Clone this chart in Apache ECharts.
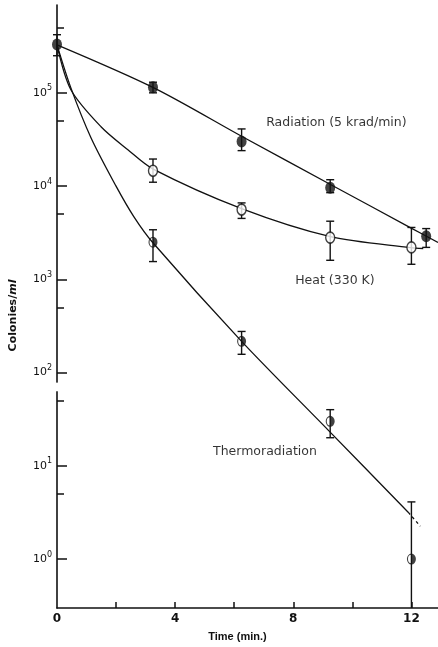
<!DOCTYPE html>
<html>
<head>
<meta charset="utf-8">
<script src="https://cdn.jsdelivr.net/npm/echarts@6/dist/echarts.min.js"></script>
<style>
html,body{margin:0;padding:0;background:#fff;}
#chart{width:438px;height:647px;}
</style>
</head>
<body>
<div id="chart"></div>
<script>
// ---- axis settings ----
const xMin = 0, xMax = 12.9;
const yMin = 0.2985, yMax = 8.75e5;
const xLabelValues = [0, 4, 8, 12];
const xTickValues = [2, 4, 6, 8, 10, 12];
const yLabelValues = [1, 10, 100, 1000, 10000, 100000];
const yMinorTickValues = [5, 50, 500, 5000, 50000, 500000];
const yBreak = [63, 78];

// ---- measured points (time in min, colonies/ml) ----
const radiationT = [0, 3.25, 6.25, 9.25, 12.5];
const radiationY = [3.3e5, 1.15e5, 3.0e4, 9.6e3, 2.9e3];
const radiationLow = [2.5e5, 1.0e5, 2.4e4, 8.5e3, 2.2e3];
const radiationHigh = [4.2e5, 1.3e5, 4.1e4, 1.17e4, 3.5e3];

const heatT = [3.25, 6.25, 9.25, 12];
const heatY = [1.46e4, 5.6e3, 2.8e3, 2.2e3];
const heatLow = [1.1e4, 4.5e3, 1.6e3, 1.45e3];
const heatHigh = [1.95e4, 6.6e3, 4.2e3, 3.6e3];

const thermoT = [3.25, 6.25, 9.25, 12];
const thermoY = [2.5e3, 216, 30, 1.0];
const thermoLow = [1.55e3, 157, 20, 0.2985];
const thermoHigh = [3.4e3, 276, 40, 4.1];

// ---- fitted curves ----
const radCurveT = [0, 3.28, 6.28, 9.26, 11.96, 12.9];
const radCurveY = [3.27e5, 1.13e5, 3.38e4, 1.04e4, 3.59e3, 2.48e3];

const heatCurveT = [0, 0.47, 1.49, 2.40, 3.24, 6.25, 9.26, 11.96, 12.4];
const heatCurveY = [3.27e5, 1.08e5, 4.33e4, 2.45e4, 1.53e4, 5.73e3, 2.87e3, 2.19e3, 2.14e3];

const thermoCurveT = [0, 0.47, 1.15, 1.99, 2.6, 3.24, 6.25, 9.19, 11.89];
const thermoCurveY = [3.27e5, 1.13e5, 3.3e4, 1.01e4, 4.7e3, 2.48e3, 216, 24.0, 3.18];

const thermoDashT = [11.89, 12.3];
const thermoDashY = [3.18, 2.25];

// ---- annotations ----
const annoText = ['Radiation (5 krad/min)', 'Heat (330 K)', 'Thermoradiation'];
const annoT = [9.46, 9.41, 7.04];
const annoY = [4.77e4, 971, 14.3];

const INK = '#111';
const zip = (a, b) => a.map((v, i) => [v, b[i]]);
const zip3 = (a, b, c) => a.map((v, i) => [v, b[i], c[i]]);

function errorBarSeries(name, t, low, high) {
  return {
    name: name, type: 'custom', z: 3,
    data: zip3(t, low, high),
    renderItem: function (params, api) {
      const x = api.value(0);
      const lo = api.coord([x, api.value(1)]);
      const hi = api.coord([x, api.value(2)]);
      const cw = 4;
      const st = { stroke: INK, lineWidth: 1.4 };
      const children = [
        { type: 'line', shape: { x1: lo[0], y1: lo[1], x2: hi[0], y2: hi[1] }, style: st },
        { type: 'line', shape: { x1: hi[0] - cw, y1: hi[1], x2: hi[0] + cw, y2: hi[1] }, style: st }
      ];
      if (api.value(1) > yMin * 1.01) {
        children.push({ type: 'line', shape: { x1: lo[0] - cw, y1: lo[1], x2: lo[0] + cw, y2: lo[1] }, style: st });
      }
      return { type: 'group', children: children };
    }
  };
}

function curve(t, y, dashed) {
  return {
    type: 'line', data: zip(t, y), smooth: 0.3, showSymbol: false, z: 2,
    lineStyle: { color: INK, width: 1.3, type: dashed ? [3, 3] : 'solid' },
    silent: true
  };
}

const halfFilled = 'path://M0,-10A10,10,0,1,1,0,10A10,10,0,1,1,0,-10ZM0,-7.6A7.6,7.6,0,0,0,0,7.6L0,-7.6Z';

const chart = echarts.init(document.getElementById('chart'), null, { renderer: 'canvas' });
const option = {
  backgroundColor: '#fff',
  animation: false,
  grid: { left: 56, right: 0, top: 5, bottom: 38, containLabel: false },
  xAxis: {
    type: 'value', min: xMin, max: xMax,
    name: 'Time (min.)', nameLocation: 'middle', nameGap: 23,
    nameTextStyle: { fontFamily: 'Liberation Sans', fontWeight: 'bold', fontSize: 11, color: INK, padding: [0, 20, 0, 0] },
    axisLine: { show: true, onZero: false, lineStyle: { color: INK, width: 1.6 } },
    axisTick: { show: true, inside: true, length: 6, customValues: xTickValues, lineStyle: { color: INK, width: 1.5 } },
    axisLabel: { customValues: xLabelValues, margin: 5, fontFamily: 'DejaVu Sans', fontWeight: 'bold', fontSize: 12, color: INK },
    splitLine: { show: false }
  },
  yAxis: [{
    type: 'log', logBase: 10, min: yMin, max: yMax,
    name: 'Colonies/{i|ml}', nameLocation: 'middle', nameGap: 38,
    nameTextStyle: { fontFamily: 'DejaVu Sans', fontWeight: 'bold', fontSize: 11, color: INK, padding: [0, 18, 0, 0],
      rich: { i: { fontFamily: 'DejaVu Sans', fontWeight: 'bold', fontStyle: 'italic', fontSize: 11, color: INK } } },
    axisLine: { show: true, onZero: false, lineStyle: { color: INK, width: 1.6 } },
    axisTick: { show: true, inside: true, length: 10, customValues: yLabelValues, lineStyle: { color: INK, width: 1.5 } },
    axisLabel: {
      customValues: yLabelValues, margin: 5,
      formatter: function (v) { return '{b|10}{s|' + Math.round(Math.log10(v)) + '}'; },
      rich: {
        b: { fontFamily: 'DejaVu Sans', fontSize: 11, color: INK, lineHeight: 17 },
        s: { fontFamily: 'DejaVu Sans', fontSize: 8, color: INK, verticalAlign: 'top', lineHeight: 10 }
      }
    },
    splitLine: { show: false }
  }, {
    type: 'log', logBase: 10, min: yMin, max: yMax, position: 'left', offset: 0,
    axisLine: { show: false },
    axisTick: { show: true, inside: true, length: 7, customValues: yMinorTickValues, lineStyle: { color: INK, width: 1.5 } },
    axisLabel: { show: false },
    splitLine: { show: false }
  }],
  series: [
    curve(radCurveT, radCurveY),
    curve(heatCurveT, heatCurveY),
    curve(thermoCurveT, thermoCurveY),
    curve(thermoDashT, thermoDashY, true),
    errorBarSeries('radErr', radiationT, radiationLow, radiationHigh),
    errorBarSeries('heatErr', heatT, heatLow, heatHigh),
    errorBarSeries('thermoErr', thermoT, thermoLow, thermoHigh),
    {
      name: 'Radiation', type: 'scatter', z: 5, data: zip(radiationT, radiationY),
      symbol: 'circle', symbolSize: [10, 12], itemStyle: { color: INK }
    },
    {
      name: 'Heat', type: 'scatter', z: 5, data: zip(heatT, heatY),
      symbol: 'circle', symbolSize: [9, 11], itemStyle: { color: '#fff', borderColor: INK, borderWidth: 1.5 }
    },
    {
      name: 'Thermoradiation', type: 'scatter', z: 5, data: zip(thermoT, thermoY),
      symbol: halfFilled, symbolSize: [9, 11], symbolKeepAspect: false, itemStyle: { color: INK }
    },
    {
      name: 'labels', type: 'scatter', z: 6, silent: true, symbolSize: 0,
      data: annoText.map((s, i) => ({ value: [annoT[i], annoY[i]], name: s })),
      label: {
        show: true, position: 'inside', formatter: '{b}',
        fontFamily: 'DejaVu Sans', fontSize: 12.5, color: '#000'
      }
    }
  ]
};
chart.setOption(option);

// axis break on the y axis line
const bx = chart.convertToPixel({ xAxisIndex: 0 }, xMin);
const bTop = chart.convertToPixel({ yAxisIndex: 0 }, yBreak[1]);
const bBot = chart.convertToPixel({ yAxisIndex: 0 }, yBreak[0]);
chart.setOption({
  graphic: [{
    type: 'rect', z: 100,
    shape: { x: bx - 3, y: bTop, width: 6, height: bBot - bTop },
    style: { fill: '#fff' }
  }]
});
</script>
</body>
</html>
